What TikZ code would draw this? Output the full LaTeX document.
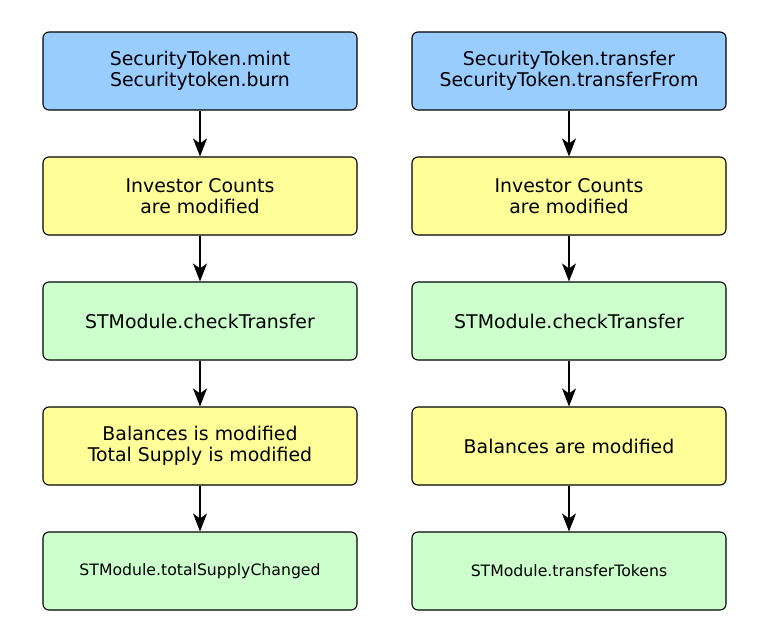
\documentclass[tikz,border=0pt]{standalone}
\usepackage{fontspec}
\setmainfont{DejaVu Sans}
\usetikzlibrary{arrows.meta}
\definecolor{cblue}{HTML}{99CCFF}
\definecolor{cyellow}{HTML}{FFFF99}
\definecolor{cgreen}{HTML}{CCFFCC}
\tikzset{
  box/.style={draw=black, line width=1.1pt, rounded corners=6pt, minimum width=314pt, minimum height=78pt, align=center, inner sep=0pt, font=\fontsize{18.9}{21}\selectfont},
  small/.style={font=\fontsize{15.7}{18}\selectfont},
  conn/.style={-{Stealth[length=18pt,width=14pt,inset=5pt]}, line width=1.1pt},
}
\begin{document}
\begin{tikzpicture}[x=1pt,y=-1pt]
\useasboundingbox (0,0) rectangle (759,644);
\node[box, fill=cblue] (a1) at (200,71) {SecurityToken.mint\\Securitytoken.burn};
\node[box, fill=cyellow] (a2) at (200,196) {Investor Counts\\are modified};
\node[box, fill=cgreen] (a3) at (200,321) {STModule.checkTransfer};
\node[box, fill=cyellow] (a4) at (200,446) {Balances is modified\\Total Supply is modified};
\node[box, fill=cgreen, small] (a5) at (200,571) {STModule.totalSupplyChanged};
\node[box, fill=cblue] (b1) at (569,71) {SecurityToken.transfer\\SecurityToken.transferFrom};
\node[box, fill=cyellow] (b2) at (569,196) {Investor Counts\\are modified};
\node[box, fill=cgreen] (b3) at (569,321) {STModule.checkTransfer};
\node[box, fill=cyellow] (b4) at (569,446) {Balances are modified};
\node[box, fill=cgreen, small] (b5) at (569,571) {STModule.transferTokens};
\foreach \p in {a,b}{
  \draw[conn] (\p1) -- (\p2);
  \draw[conn] (\p2) -- (\p3);
  \draw[conn] (\p3) -- (\p4);
  \draw[conn] (\p4) -- (\p5);
}
\end{tikzpicture}
\end{document}
